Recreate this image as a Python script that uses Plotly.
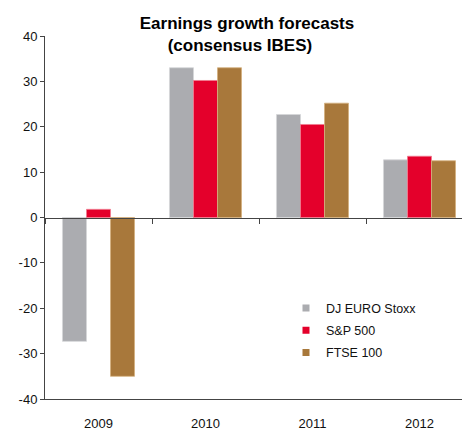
import plotly.graph_objects as go

years = ["2009", "2010", "2011", "2012"]
series_names = ["DJ EURO Stoxx", "S&P 500", "FTSE 100"]
dj_euro_stoxx = [-27.3, 33.0, 22.7, 12.7]
sp_500 = [1.8, 30.2, 20.5, 13.5]
ftse_100 = [-35.0, 33.0, 25.2, 12.5]
y_ticks = [-40, -30, -20, -10, 0, 10, 20, 30, 40]
y_tick_labels = [str(v) for v in y_ticks]

colors = ["#ABACB0", "#E4002B", "#A8783B"]
edge_colors = ["#D4D5D8", "#F07A8E", "#D4B07E"]
values = [dj_euro_stoxx, sp_500, ftse_100]

FONT = "Arial, Liberation Sans, sans-serif"

fig = go.Figure()
for name, vals, c, ec in zip(series_names, values, colors, edge_colors):
    fig.add_trace(go.Bar(x=years, y=vals, name=name, marker=dict(color=c, line=dict(color=ec, width=0.8)),
                         showlegend=False))
    # legend proxy with small square symbol
    fig.add_trace(go.Scatter(x=[years[0]], y=[None], mode="markers", name=name, legendgroup=name,
                             marker=dict(symbol="square", size=7, color=c), showlegend=True))

# invisible trace for zero-line axis
fig.add_trace(go.Scatter(x=years, y=[None] * 4, xaxis="x2", showlegend=False, hoverinfo="skip"))

fig.update_layout(
    width=462, height=430,
    margin=dict(l=45, r=0, t=36, b=31),
    plot_bgcolor="white", paper_bgcolor="white",
    font=dict(family=FONT, size=13, color="#111111"),
    barmode="group", bargap=0.327, bargroupgap=0,
    title=dict(text="<b>Earnings growth forecasts</b><br><b>(consensus IBES)</b>&nbsp;&nbsp;&nbsp;",
               x=247 / 462, xanchor="center", y=1 - 29 / 430, yanchor="middle",
               font=dict(family=FONT, size=17, color="#000000")),
    xaxis=dict(type="category", categoryorder="array", categoryarray=years,
               range=[-0.5, -0.5 + 417 / 107], showline=True, linecolor="#444444", linewidth=1,
               ticks="", showgrid=False, zeroline=False, ticklabelstandoff=12,
               tickfont=dict(size=13, color="#111111")),
    xaxis2=dict(type="category", categoryorder="array", categoryarray=years, overlaying="x",
                matches="x", anchor="free", position=0.5, side="bottom", showline=True,
                linecolor="#444444", linewidth=1, ticks="outside", ticklen=5, tickcolor="#444444",
                tickson="boundaries", showticklabels=False, showgrid=False, zeroline=False),
    yaxis=dict(range=[-40, 40], tickvals=y_ticks, ticktext=y_tick_labels, showline=True,
               linecolor="#444444", linewidth=1,
               ticks="outside", ticklen=4, tickcolor="#444444", showgrid=False, zeroline=False,
               tickfont=dict(size=13, color="#111111")),
    legend=dict(x=267 / 462, y=1 - 305 / 430, xanchor="left", yanchor="top",
                bgcolor="rgba(0,0,0,0)", font=dict(size=12.5, color="#111111"),
                itemwidth=30, tracegroupgap=3),
)

fig.write_html("out.html")
